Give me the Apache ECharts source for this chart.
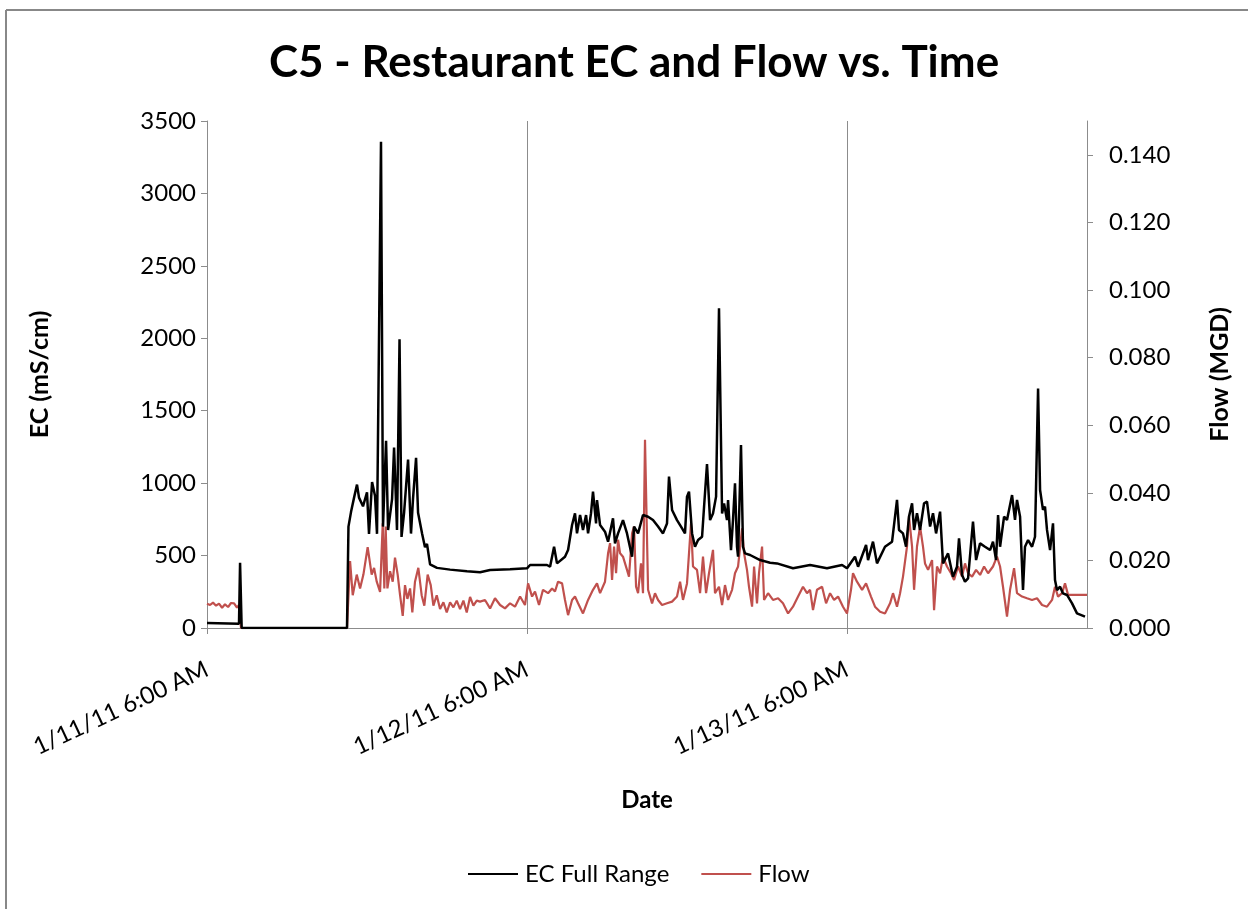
<!DOCTYPE html>
<html>
<head>
<meta charset="utf-8">
<script src="https://cdn.jsdelivr.net/npm/echarts@6/dist/echarts.min.js"></script>
<style>
  html, body { margin: 0; padding: 0; background: #fff; }
  #chart { width: 1248px; height: 909px; }
</style>
</head>
<body>
<div id="chart"></div>
<script>
// hours after 1/11/11 6:00 AM
var ecHours = [0, 2.4, 2.48, 2.6, 10.5, 10.61, 10.8, 11.03, 11.25, 11.4, 11.7, 12.0, 12.15, 12.38, 12.6, 12.75,
  13.05, 13.2, 13.43, 13.58, 13.88, 14.03, 14.25, 14.44, 14.59, 14.78, 15.08, 15.3, 15.45, 15.68, 15.83,
  16.13, 16.35, 16.5, 16.73, 17.25, 18.23, 19.5, 20.48, 21.23, 22.73, 24.0, 24.23, 25.5, 25.73, 26.03,
  26.25, 26.85, 27.08, 27.38, 27.6, 27.75, 27.98, 28.2, 28.43, 28.58, 28.8, 28.95, 29.18, 29.25, 29.48,
  29.85, 30.08, 30.45, 30.6, 30.83, 31.2, 31.5, 31.88, 32.03, 32.33, 32.7, 33.08, 33.45, 33.83, 34.2,
  34.5, 34.65, 34.88, 35.25, 35.63, 35.85, 36.0, 36.15, 36.38, 36.6, 36.83, 37.13, 37.28, 37.5, 37.73,
  37.95, 38.18, 38.4, 38.63, 38.78, 39.0, 39.08, 39.3, 39.45, 39.6, 39.75, 39.83, 40.05, 40.2, 40.35,
  40.73, 41.48, 42.23, 42.75, 43.95, 45.23, 46.5, 47.63, 48.0, 48.6, 48.83, 49.43, 49.58, 49.95, 50.25,
  50.85, 51.38, 51.75, 51.9, 52.2, 52.43, 52.65, 52.88, 53.03, 53.25, 53.48, 53.78, 54.0, 54.23, 54.45,
  54.68, 54.98, 55.2, 55.58, 55.95, 56.25, 56.4, 56.63, 56.85, 57.08, 57.45, 57.68, 57.98, 58.35, 58.73,
  58.95, 59.18, 59.33, 59.48, 59.78, 60.0, 60.38, 60.6, 60.75, 60.98, 61.2, 61.35, 61.58, 61.88, 62.1,
  62.33, 62.48, 62.7, 62.85, 63.0, 63.23, 63.45, 63.6, 63.75, 63.98, 64.2, 64.5, 64.88, 65.25, 65.85];
var ecValues = [35, 30, 450, 0, 0, 700, 800, 900, 990, 900, 840, 937, 650, 1008, 913, 650,
  3357, 700, 1293, 676, 890, 1246, 676, 1993, 629, 795, 1163, 652, 890, 1175, 795,
  652, 558, 581, 439, 415, 403, 391, 385, 400, 405, 412, 435, 435, 423, 561,
  446, 492, 538, 711, 791, 653, 780, 676, 780, 653, 791, 941, 722, 883, 711,
  665, 596, 757, 584, 653, 745, 653, 492, 700, 653, 780, 768, 745, 700, 653,
  722, 1045, 815, 745, 688, 653, 907, 941, 653, 561, 607, 630, 837, 1132, 745,
  791, 907, 2207, 791, 860, 745, 883, 538, 745, 999, 561, 492, 1263, 561, 515,
  504, 469, 451, 446, 412, 435, 412, 435, 412, 492, 423, 573, 469, 596, 446,
  561, 596, 884, 677, 653, 561, 769, 861, 677, 792, 677, 861, 872, 700, 792,
  653, 803, 446, 515, 354, 423, 619, 366, 320, 343, 734, 469, 584, 561, 538,
  596, 469, 780, 561, 769, 746, 918, 746, 884, 769, 262, 561, 607, 561, 630,
  1654, 953, 815, 838, 677, 538, 723, 331, 262, 285, 239, 228, 170, 101, 78];

var flowHours = [0, 0.23, 0.45, 0.68, 0.9, 1.13, 1.35, 1.58, 1.8, 2.03, 2.25, 2.4, 2.55, 10.5,
  10.73, 10.93, 11.23, 11.48, 11.73, 12.05, 12.35, 12.53, 12.73, 12.98, 13.18, 13.3, 13.4, 13.53, 13.73,
  13.93, 14.1, 14.3, 14.48, 14.68, 14.85, 15.03, 15.23, 15.4, 15.6, 15.85, 16.1, 16.3, 16.55, 16.78,
  16.98, 17.23, 17.48, 17.73, 17.98, 18.23, 18.48, 18.73, 18.98, 19.23, 19.48, 19.73, 19.98, 20.23,
  20.48, 20.85, 21.23, 21.6, 21.98, 22.35, 22.73, 23.1, 23.48, 23.85, 24.08, 24.38, 24.6, 24.9, 25.2,
  25.58, 25.88, 26.1, 26.33, 26.63, 26.85, 27.08, 27.38, 27.6, 27.83, 28.2, 28.58, 28.95, 29.25, 29.48,
  29.85, 30.08, 30.23, 30.38, 30.53, 30.68, 30.83, 30.98, 31.2, 31.5, 31.65, 31.88, 32.03, 32.18, 32.33,
  32.55, 32.7, 32.85, 33.0, 33.08, 33.38, 33.6, 33.83, 34.13, 34.5, 34.88, 35.25, 35.48, 35.7, 36.0,
  36.3, 36.45, 36.75, 36.98, 37.2, 37.43, 37.65, 37.95, 38.1, 38.4, 38.63, 38.85, 39.08, 39.38, 39.6,
  39.83, 40.13, 40.28, 40.5, 40.65, 40.88, 41.03, 41.25, 41.4, 41.63, 41.78, 42.08, 42.45, 42.83, 43.2,
  43.58, 43.95, 44.33, 44.7, 45.0, 45.23, 45.45, 45.75, 46.13, 46.43, 46.73, 47.03, 47.33, 47.7, 48.0,
  48.3, 48.45, 48.75, 49.13, 49.43, 49.8, 50.1, 50.48, 50.85, 51.23, 51.45, 51.75, 51.98, 52.2, 52.5,
  52.65, 52.88, 53.03, 53.25, 53.48, 53.7, 53.85, 54.08, 54.38, 54.53, 54.75, 54.98, 55.2, 55.5, 55.8,
  56.03, 56.33, 56.63, 56.85, 57.08, 57.38, 57.68, 57.98, 58.28, 58.58, 58.95, 59.25, 59.48, 59.7, 60.0,
  60.23, 60.53, 60.75, 61.13, 61.5, 61.88, 62.25, 62.63, 63.0, 63.38, 63.6, 63.83, 64.13, 64.35, 64.58,
  64.95, 65.48, 66.0];
var flowValues = [0.0072, 0.0068, 0.0075, 0.0066, 0.0072, 0.0060, 0.0070, 0.0062, 0.0074, 0.0073, 0.0060, 0.0068, 0, 0,
  0.0198, 0.0097, 0.0158, 0.0117, 0.0158, 0.0239, 0.0158, 0.0178, 0.0137, 0.0107, 0.0310, 0.0117, 0.0300, 0.0117, 0.0168,
  0.0137, 0.0208, 0.0158, 0.0097, 0.0036, 0.0127, 0.0086, 0.0117, 0.0046, 0.0137, 0.0178, 0.0097, 0.0066, 0.0158, 0.0127,
  0.0066, 0.0097, 0.0056, 0.0076, 0.0046, 0.0076, 0.0061, 0.0081, 0.0056, 0.0081, 0.0046, 0.0092, 0.0066, 0.0081,
  0.0078, 0.0083, 0.0058, 0.0088, 0.0068, 0.0058, 0.0073, 0.0063, 0.0093, 0.0068, 0.0132, 0.0093, 0.0108, 0.0068, 0.0113,
  0.0103, 0.0117, 0.0108, 0.0137, 0.0132, 0.0083, 0.0038, 0.0083, 0.0093, 0.0073, 0.0043, 0.0083, 0.0113, 0.0132, 0.0103,
  0.0137, 0.0221, 0.0251, 0.0142, 0.0241, 0.0162, 0.0261, 0.0221, 0.0211, 0.0172, 0.0152, 0.0280, 0.0300, 0.0122, 0.0103,
  0.0191, 0.0103, 0.0557, 0.0557, 0.0113, 0.0073, 0.0103, 0.0083, 0.0068, 0.0073, 0.0078, 0.0093, 0.0137, 0.0083, 0.0132,
  0.0310, 0.0182, 0.0172, 0.0103, 0.0211, 0.0103, 0.0162, 0.0231, 0.0103, 0.0122, 0.0068, 0.0127, 0.0083, 0.0113, 0.0162,
  0.0182, 0.0295, 0.0221, 0.0172, 0.0122, 0.0063, 0.0182, 0.0073, 0.0162, 0.0241, 0.0083, 0.0103, 0.0083, 0.0088, 0.0073,
  0.0043, 0.0063, 0.0093, 0.0122, 0.0103, 0.0113, 0.0053, 0.0113, 0.0122, 0.0073, 0.0103, 0.0083, 0.0093, 0.0063, 0.0043,
  0.0113, 0.0162, 0.0137, 0.0113, 0.0132, 0.0093, 0.0063, 0.0048, 0.0043, 0.0073, 0.0103, 0.0063, 0.0103, 0.0152, 0.0241,
  0.0330, 0.0241, 0.0113, 0.0241, 0.0300, 0.0241, 0.0191, 0.0172, 0.0201, 0.0053, 0.0182, 0.0162, 0.0211, 0.0182, 0.0162,
  0.0142, 0.0182, 0.0152, 0.0191, 0.0162, 0.0152, 0.0172, 0.0157, 0.0182, 0.0162, 0.0182, 0.0211, 0.0182, 0.0122, 0.0034,
  0.0113, 0.0177, 0.0103, 0.0093, 0.0088, 0.0083, 0.0088, 0.0068, 0.0063, 0.0083, 0.0122, 0.0093, 0.0103, 0.0132, 0.0098,
  0.0098, 0.0098, 0.0098];

var xTickLabels = ['1/11/11 6:00 AM', '1/12/11 6:00 AM', '1/13/11 6:00 AM'];

function pairs(xs, ys) {
  var out = [];
  for (var i = 0; i < xs.length; i++) out.push([xs[i], ys[i]]);
  return out;
}

var chart = echarts.init(document.getElementById('chart'));
var font = 'Lato';
var axisGray = '#8c8c8c';

var option = {
  backgroundColor: '#fff',
  animation: false,
  title: {
    text: 'C5 - Restaurant EC and Flow vs. Time',
    left: 264,
    top: 36,
    textStyle: { fontFamily: font, fontSize: 44, fontWeight: 'bold', color: '#000' }
  },
  graphic: [
    { type: 'line', shape: { x1: 6, y1: 10, x2: 6, y2: 909 }, style: { stroke: '#888', lineWidth: 2 } },
    { type: 'line', shape: { x1: 6, y1: 10, x2: 1248, y2: 10 }, style: { stroke: '#888', lineWidth: 2 } }
  ],
  legend: {
    bottom: 18,
    left: 463,
    itemGap: 32,
    itemWidth: 50,
    itemHeight: 2,
    icon: 'rect',
    textStyle: { fontFamily: font, fontSize: 24, color: '#000', padding: [0, 0, 0, 2] },
    data: ['EC Full Range', 'Flow']
  },
  grid: { left: 207, right: 161, top: 121, bottom: 281 },
  xAxis: {
    type: 'value',
    min: 0,
    max: 66,
    interval: 24,
    name: 'Date',
    nameLocation: 'middle',
    nameGap: 160,
    nameTextStyle: { fontFamily: font, fontSize: 24, fontWeight: 'bold', color: '#000' },
    axisLine: { lineStyle: { color: axisGray } },
    axisTick: { length: 6, lineStyle: { color: axisGray } },
    splitLine: { show: true, lineStyle: { color: axisGray, width: 1 } },
    axisLabel: {
      rotate: 25,
      margin: 40,
      showMaxLabel: false,
      fontFamily: font,
      fontSize: 24,
      color: '#000',
      formatter: function (v) { return xTickLabels[Math.round(v / 24)] || ''; }
    }
  },
  yAxis: [
    {
      type: 'value',
      min: 0,
      max: 3500,
      interval: 500,
      name: 'EC (mS/cm)',
      nameLocation: 'middle',
      nameGap: 155,
      nameTextStyle: { fontFamily: font, fontSize: 25, fontWeight: 'bold', color: '#000' },
      axisLine: { show: true, lineStyle: { color: axisGray } },
      axisTick: { show: true, length: 6, lineStyle: { color: axisGray } },
      splitLine: { show: false },
      axisLabel: {
        fontFamily: font, fontSize: 24, color: '#000', margin: 11,
        formatter: function (v) { return String(v); }
      }
    },
    {
      type: 'value',
      min: 0,
      max: 0.15,
      interval: 0.02,
      position: 'right',
      name: 'Flow (MGD)',
      nameLocation: 'middle',
      nameGap: 120,
      nameRotate: 90,
      nameTextStyle: { fontFamily: font, fontSize: 25, fontWeight: 'bold', color: '#000' },
      axisLine: { show: true, lineStyle: { color: axisGray } },
      axisTick: { show: true, length: 6, lineStyle: { color: axisGray } },
      splitLine: { show: false },
      axisLabel: {
        fontFamily: font, fontSize: 24, color: '#000', margin: 22, showMaxLabel: false,
        formatter: function (v) { return v.toFixed(3); }
      }
    }
  ],
  series: [
    {
      name: 'EC Full Range',
      type: 'line',
      yAxisIndex: 0,
      data: pairs(ecHours, ecValues),
      showSymbol: false,
      lineStyle: { color: '#000', width: 2.5 },
      itemStyle: { color: '#000' },
      z: 3
    },
    {
      name: 'Flow',
      type: 'line',
      yAxisIndex: 1,
      data: pairs(flowHours, flowValues),
      showSymbol: false,
      lineStyle: { color: '#c0504d', width: 2.2 },
      itemStyle: { color: '#c0504d' },
      z: 2
    }
  ]
};

chart.setOption(option);
</script>
</body>
</html>
